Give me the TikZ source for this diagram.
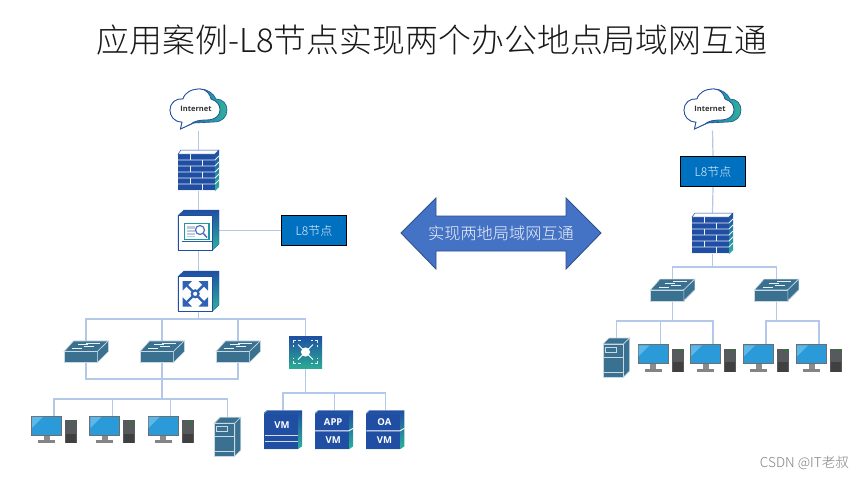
\documentclass[tikz,border=0pt]{standalone}
\usepackage{fontspec}
\setmainfont{Noto Sans CJK SC}
\newfontfamily\latinf{Open Sans}
\newfontfamily\lightf{Noto Sans CJK SC Light}
\usetikzlibrary{calc}
\definecolor{link}{HTML}{B4C8EA}
\definecolor{bluedk}{HTML}{1F4EA3}
\definecolor{teal1}{HTML}{2DB39A}
\definecolor{swc}{HTML}{3B7190}
\definecolor{swl}{HTML}{C9D9E2}
\definecolor{scr}{HTML}{2B9AD9}
\definecolor{scl}{HTML}{5DB8EA}
\definecolor{frm}{HTML}{6E6E6E}
\definecolor{twr}{HTML}{565A5C}
\definecolor{l8}{HTML}{0070C0}
\definecolor{arrf}{HTML}{4472C4}
\definecolor{arrl}{HTML}{2F528F}
\definecolor{corec}{HTML}{2F62B4}
\definecolor{scrt}{HTML}{1E9A9C}
\tikzset{
  slot/.style={inner sep=0pt,outer sep=0pt,minimum width=#1},
  wire/.style={draw=link,line width=1.2pt},
  l8box/.style={draw=black,line width=1.2pt,fill=l8,text=white!92!l8,font=\lightf\fontsize{12}{12}\selectfont,inner sep=0pt,minimum width=65pt,minimum height=30pt},
  pics/cloud/.style={code={
    \path[draw=bluedk,line width=0.6pt,left color=bluedk,right color=teal1]
      (12,33) .. controls (4,33) and (0,27) .. (0,21) .. controls (0,14) and (6,9) .. (13,10)
      .. controls (15,3) and (22,0) .. (30,0) .. controls (38,0) and (44,5) .. (46,10)
      .. controls (53,10) and (57,15) .. (57,21) .. controls (57,28) and (52,33) .. (44,33)
      -- (24,34) -- (10.5,40) -- cycle;
    \path[draw=bluedk,line width=0.8pt,fill=white]
      (12,33) .. controls (4,33) and (0,27) .. (0,21) .. controls (0,14) and (6,9) .. (13,10)
      .. controls (15,3) and (22,0) .. (30,0) .. controls (36,0) and (40,5) .. (41,10)
      .. controls (47,12) and (50,16) .. (50,21) .. controls (50,26) and (46,31) .. (36,31)
      .. controls (30,31) and (24,32) .. (21,35) -- (10.5,40) -- cycle;
  }},
  pics/firewall/.style={code={
    \fill[bluedk] (0,4) rectangle (37,41);
    \path[draw=bluedk,line width=0.5pt,fill=white] (0,4) -- (3,0) -- (41,0) -- (37,4) -- cycle;
    \path[top color=bluedk,bottom color=teal1] (37,4) -- (41,0) -- (41,37) -- (37,41) -- cycle;
    \foreach \yy in {10,16,22,28,34}{\draw[white!92!bluedk,line width=0.8pt] (0,\yy) -- (37,\yy) -- (41,\yy-4);}
    \draw[white!92!bluedk,line width=0.8pt] (0,40.4) -- (37,40.4);
    \foreach \xa/\ya in {12/4,24/10,12/16,24/22,12/28,24/34}{\draw[white!92!bluedk,line width=0.8pt] (\xa,\ya) -- (\xa,\ya+6);}
  }},
  pics/frontbox/.style={code={
    \path[draw=bluedk,line width=0.4pt,top color=bluedk,bottom color=teal1] (0,5.5) -- (6,0) -- (41,0) -- (41,34) -- (34.5,40) -- (0,40) -- cycle;
    \path[draw=bluedk,line width=0.8pt,fill=white] (0,5.5) rectangle (34.5,40);
  }},
  pics/viewer/.style={code={
    \pic {frontbox};
    \draw[scrt,line width=1.3pt,fill=white] (6.5,13.5) rectangle (31,29.5);
    \fill[bluedk!30] (8.5,16) rectangle (16.5,27);
    \draw[white,line width=0.5pt] (8.5,19) -- (16.5,19) (8.5,22) -- (16.5,22) (8.5,25) -- (16.5,25);
    \draw[bluedk!80,line width=1.2pt,fill=white] (22,20) circle (4.5pt);
    \draw[bluedk!80,line width=1.5pt] (25.5,23.5) -- (29,27.5);
    \draw[bluedk!70!scrt,line width=1.1pt] (3.5,31.3) -- (33.5,31.3);
  }},
  pics/core/.style={code={
    \pic {frontbox};
    \begin{scope}[corec]
      \draw[line width=2.4pt] (6,11.5) -- (28.4,34) (28.4,11.5) -- (6,34);
      \fill (4.5,10) -- (14,10) -- (4.5,19.5) -- cycle;
      \fill (30,10) -- (20.5,10) -- (30,19.5) -- cycle;
      \fill (4.5,35.6) -- (14,35.6) -- (4.5,26.1) -- cycle;
      \fill (30,35.6) -- (20.5,35.6) -- (30,26.1) -- cycle;
      \draw[line width=2.2pt,fill=white] (17.2,22.8) circle (3.4pt);
    \end{scope}
  }},
  pics/swt/.style={code={
    \path[fill=swc,draw=swl,line width=0.6pt] (0,10.7) -- (9.5,0) -- (44.3,0) -- (33.3,10.7) -- cycle;
    \path[fill=swc,draw=swl,line width=0.6pt] (0,10.7) rectangle (33.3,21.7);
    \path[fill=swc,draw=swl,line width=0.6pt] (33.3,10.7) -- (44.3,0) -- (44.3,10.7) -- (33.3,21.7) -- cycle;
    \foreach \xa/\ya/\xb/\yb in {22/2.2/36/2.2,14/4/24/4,20/6/30/6,8/8/18/8}{
      \draw[white!90!swc,line width=1pt] (\xa,\ya) -- (\xb,\yb);}
  }},
  pics/pc/.style={code={
    \fill[frm!80] (12.5,19) rectangle (18.5,24.5);
    \fill[frm!85] (7,24.5) rectangle (24,27.5);
    \fill[frm] (0,0) rectangle (31,19.7);
    \fill[scr] (1,1) rectangle (30,18.7);
    \fill[scl] (1,1) -- (12,1) -- (1,12) -- cycle;
    \fill[twr] (34,4.5) rectangle (46,27.5);
    \fill[black!75] (35,18) rectangle (45,27.5);
    \fill[green!60!black] (41,6.5) rectangle (44,7.3);
  }},
  pics/server/.style={code={
    \path[fill=swc,draw=swl,line width=0.6pt] (0,6) -- (6,0) -- (26.5,0) -- (20.5,6) -- cycle;
    \path[fill=swc,draw=swl,line width=0.6pt] (20.5,6) -- (26.5,0) -- (26.5,33) -- (20.5,39) -- cycle;
    \path[fill=swc,draw=swl,line width=0.6pt] (0,6) rectangle (20.5,39);
    \draw[swl,line width=0.7pt] (2,9.5) rectangle (13,14);
    \draw[swl,line width=0.9pt] (0,19.5) -- (20.5,19.5) (0,34) -- (20.5,34);
  }},
  pics/l3/.style={code={
    \path[top color=bluedk,bottom color=teal1!95!black] (0,0) rectangle (33,32);
    \draw[white,line width=0.8pt] (9,8.5) -- (24,23.5) (24,8.5) -- (9,23.5);
    \fill[white] (16.5,16) circle (4.6pt);
    \begin{scope}[white!85!teal1,line width=0.7pt]
      \draw (4.5,7) -- (4.5,4.5) -- (7,4.5) (9,4.5) -- (11.5,4.5);
      \draw (21.5,4.5) -- (24,4.5) (26,4.5) -- (28.5,4.5) -- (28.5,7);
      \draw (4.5,25) -- (4.5,27.5) -- (7,27.5) (9,27.5) -- (11.5,27.5);
      \draw (21.5,27.5) -- (24,27.5) (26,27.5) -- (28.5,27.5) -- (28.5,25);
      \draw (4.5,9) -- (4.5,10.5) (28.5,9) -- (28.5,10.5) (4.5,21.5) -- (4.5,23) (28.5,21.5) -- (28.5,23);
    \end{scope}
  }},
  pics/vmbody/.style={code={
    \path[top color=bluedk,bottom color=teal1] (0,2.5) -- (3,0) -- (38,0) -- (38,36) -- (34,38.7) -- (0,38.7) -- cycle;
    \fill[bluedk] (0,3.5) rectangle (33.5,38.7);
    \draw[bluedk!60,line width=0.5pt] (0,3.5) -- (3,0.3) -- (37.7,0.3);
  }},
  vmtxt/.style={text=white,font=\fontsize{9.5}{9.5}\latinf\bfseries,inner sep=0pt},
}
\begin{document}
\begin{tikzpicture}[x=1pt,y=-1pt]
\useasboundingbox (0,0) rectangle (865,479);
\fill[white] (0,0) rectangle (865,479);
\node[inner sep=0pt,text=black!90,font=\lightf\fontsize{32.9}{33}\selectfont] (title) at (432,40) {应用案例-L8节点实现两个办公地点局域网互通};

% slots: left site
\node[slot=57pt,minimum height=41pt] (cloudA) at (198.5,110) {};
\node[slot=41pt,minimum height=41pt] (fwA) at (198.5,170.5) {};
\node[slot=41pt,minimum height=41pt] (viewA) at (198.5,230.5) {};
\node[slot=41pt,minimum height=41pt] (coreA) at (198.5,291.5) {};
\node[l8box] (l8A) at (314,230.5) {L8节点};
\coordinate (busA) at (198.5,319);
\node[slot=44pt,minimum height=21.7pt] (swA1) at (86,351.8) {};
\node[slot=44pt,minimum height=21.7pt] (swA2) at (162,351.8) {};
\node[slot=44pt,minimum height=21.7pt] (swA3) at (238,351.8) {};
\node[slot=33pt,minimum height=32pt] (l3A) at (305.5,352) {};
\coordinate (busB) at (162,379);
\coordinate (busC) at (162,399);
\node[slot=46pt,minimum height=27.5pt] (pcA1) at (54,429.7) {};
\node[slot=46pt,minimum height=27.5pt] (pcA2) at (112.3,429.7) {};
\node[slot=46pt,minimum height=27.5pt] (pcA3) at (170.6,429.7) {};
\node[slot=26.5pt,minimum height=39pt] (srvA) at (227.5,436.7) {};
\coordinate (busD) at (305.5,393);
\node[slot=38pt,minimum height=38.7pt] (vm1) at (283,429.7) {};
\node[slot=38pt,minimum height=38.7pt] (vm2) at (334.2,429.7) {};
\node[slot=38pt,minimum height=38.7pt] (vm3) at (385.4,429.7) {};
% slots: right site
\node[slot=57pt,minimum height=41pt] (cloudB) at (712.5,110) {};
\node[l8box] (l8B) at (713,171.5) {L8节点};
\node[slot=41pt,minimum height=41pt] (fwB) at (712.5,233.5) {};
\coordinate (busE) at (712.5,267);
\node[slot=44pt,minimum height=21.7pt] (swB1) at (672.5,290) {};
\node[slot=44pt,minimum height=21.7pt] (swB2) at (776.5,290) {};
\coordinate (busF) at (672.5,321);
\coordinate (busG) at (776.5,321);
\node[slot=26.5pt,minimum height=39pt] (srvB) at (616.3,357.5) {};
\node[slot=46pt,minimum height=27.5pt] (pcB1) at (660.5,358) {};
\node[slot=46pt,minimum height=27.5pt] (pcB2) at (713,358) {};
\node[slot=46pt,minimum height=27.5pt] (pcB3) at (766,358) {};
\node[slot=46pt,minimum height=27.5pt] (pcB4) at (819,358) {};

% connectors
\draw[wire] (cloudA.south) -- (fwA.north);
\draw[wire] (fwA.south) -- (viewA.north);
\draw[wire] (viewA.south) -- (coreA.north);
\draw[wire] (viewA.east) -- (l8A.west);
\draw[wire] (coreA.south) -- (busA);
\foreach \n in {swA1,swA2,swA3,l3A}{\draw[wire] (\n.north) |- (busA);}
\foreach \n in {swA1,swA2,swA3}{\draw[wire] (\n.south) |- (busB);}
\draw[wire] (swA2.south) -- (busC);
\foreach \n in {pcA1,pcA2,pcA3,srvA}{\draw[wire] (\n.north) |- (busC);}
\draw[wire] (l3A.south) -- (busD);
\foreach \n in {vm1,vm2,vm3}{\draw[wire] (\n.north) |- (busD);}
\draw[wire] (cloudB.south) -- (l8B.north);
\draw[wire] (l8B.south) -- (fwB.north);
\draw[wire] (fwB.south) -- (busE);
\foreach \n in {swB1,swB2}{\draw[wire] (\n.north) |- (busE);}
\draw[wire] (swB1.south) -- (busF);
\foreach \n in {srvB,pcB1,pcB2}{\draw[wire] (\n.north) |- (busF);}
\draw[wire] (swB2.south) -- (busG);
\foreach \n in {pcB3,pcB4}{\draw[wire] (\n.north) |- (busG);}

% icons
\foreach \n in {cloudA,cloudB}{
  \pic at ($(\n.center)+(-28.5,-21)$) {cloud};
  \node[inner sep=0pt,font=\fontsize{7.5}{7.5}\latinf\bfseries,text=black!80] at ($(\n.center)+(-2.5,-1)$) {Internet};
}
\foreach \n in {fwA,fwB}{\pic at (\n.north west) {firewall};}
\pic at (viewA.north west) {viewer};
\pic at (coreA.north west) {core};
\foreach \n in {swA1,swA2,swA3,swB1,swB2}{\pic at (\n.north west) {swt};}
\foreach \n in {pcA1,pcA2,pcA3,pcB1,pcB2,pcB3,pcB4}{\pic at (\n.north west) {pc};}
\foreach \n in {srvA,srvB}{\pic at (\n.north west) {server};}
\pic at (l3A.north west) {l3};
% VM stacks
\pic at (vm1.north west) {vmbody};
\draw[white!80!bluedk,line width=0.6pt] ($(vm1.north west)+(1,24.5)$) -- +(33,0) ($(vm1.north west)+(1,31)$) -- +(33,0);
\node[vmtxt] at ($(vm1.north west)+(18,14.5)$) {VM};
\foreach \n/\t in {vm2/APP,vm3/OA}{
  \pic at (\n.north west) {vmbody};
  \draw[white,line width=0.9pt] ($(\n.north west)+(0,20.5)$) -- +(33.5,0) -- +(38,-2.5);
  \node[vmtxt] at ($(\n.north west)+(18,12)$) {\t};
  \node[vmtxt] at ($(\n.north west)+(18,30)$) {VM};
}

% middle arrow
\path[fill=arrf,draw=arrl,line width=0.9pt]
  (401,233) -- (436,198) -- (436,216) -- (566,216) -- (566,198) -- (601,233) -- (566,269) -- (566,251) -- (436,251) -- (436,269) -- cycle;
\node[inner sep=0pt,text=white!92!arrf,font=\lightf\fontsize{16.2}{16.2}\selectfont] (mid) at (501,233) {实现两地局域网互通};
\node[inner sep=0pt,text=black!50,font=\lightf\fontsize{13.6}{13.6}\selectfont] (mark) at (804.5,463) {CSDN @IT老叔};
\end{tikzpicture}
\end{document}
